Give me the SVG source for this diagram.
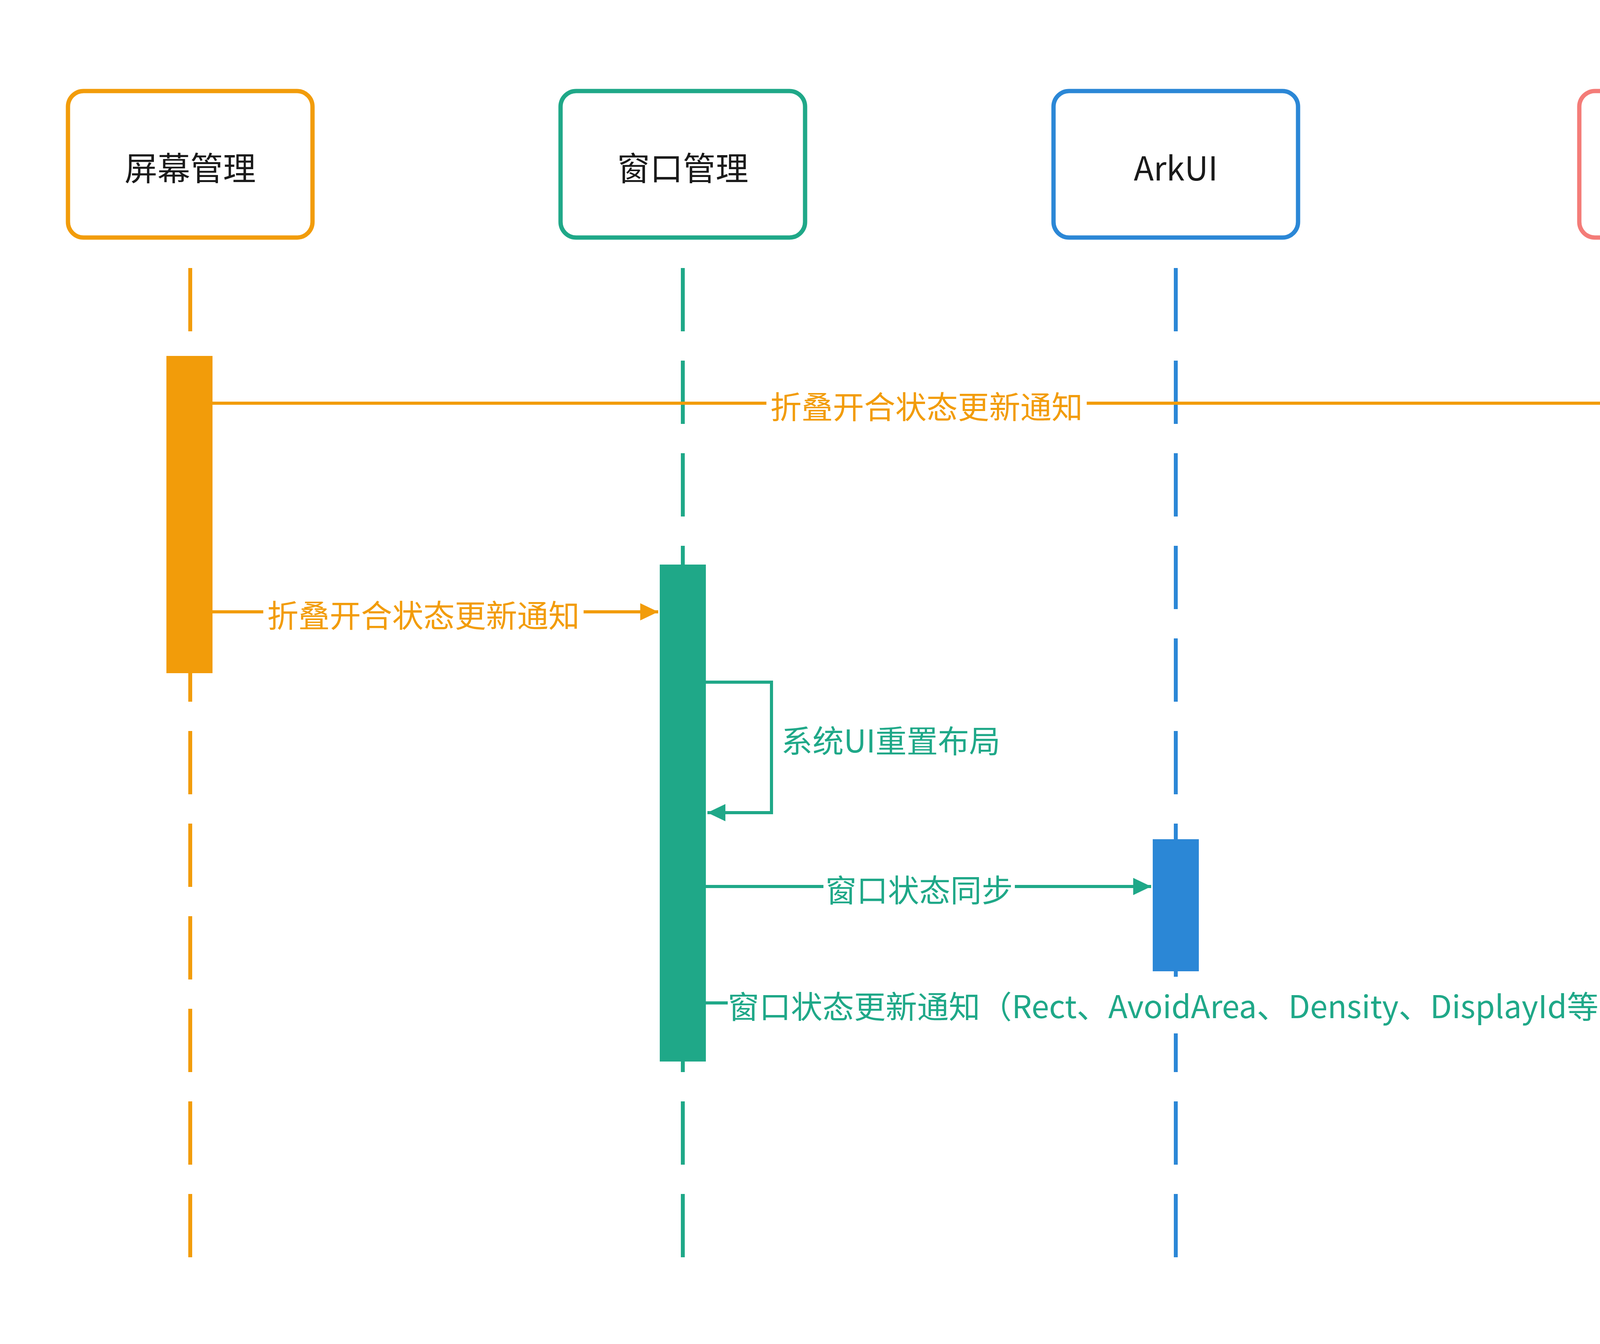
<svg xmlns="http://www.w3.org/2000/svg" width="4842" height="3440" viewBox="0 0 4842 3440">
<style>
.box{fill:#fff;stroke-width:11}
.t{font-family:"Noto Sans CJK SC","Noto Sans",sans-serif;font-size:84px;fill:#1a1a1a;text-anchor:middle;dominant-baseline:central}
.l{font-family:"Noto Sans CJK SC","Noto Sans",sans-serif;font-size:80px;dominant-baseline:central}
.c{text-anchor:middle}
.s{text-anchor:start}
.life{stroke-width:10;stroke-dasharray:162 75;fill:none}
.msg{stroke-width:8;fill:none}
</style>
<defs>
<marker id="ao" markerUnits="userSpaceOnUse" markerWidth="50" markerHeight="44" refX="46" refY="22" orient="auto"><path d="M0,0 L46,22 L0,44 Z" fill="#F29C0A"/></marker>
<marker id="ag" markerUnits="userSpaceOnUse" markerWidth="50" markerHeight="44" refX="46" refY="22" orient="auto"><path d="M0,0 L46,22 L0,44 Z" fill="#1FA888"/></marker>
</defs>
<rect width="4842" height="3440" fill="#fff"/>
<g id="lifelines">
<line class="life" x1="487" y1="686" x2="487" y2="3266" stroke="#F29C0A"/>
<line class="life" x1="1748" y1="686" x2="1748" y2="3266" stroke="#1FA888"/>
<line class="life" x1="3010" y1="686" x2="3010" y2="3266" stroke="#2B87D6"/>
<line class="life" x1="4356" y1="686" x2="4356" y2="3266" stroke="#F47C78"/>
</g>
<g id="screen"><rect class="box" x="174" y="233" width="626" height="375" rx="40" stroke="#F29C0A"/><text class="t" x="487" y="425">屏幕管理</text></g>
<g id="window"><rect class="box" x="1435" y="233" width="626" height="375" rx="40" stroke="#1FA888"/><text class="t" x="1748" y="425">窗口管理</text></g>
<g id="arkui"><rect class="box" x="2697" y="233" width="626" height="375" rx="40" stroke="#2B87D6"/><text class="t" x="3010" y="425">ArkUI</text></g>
<g id="app"><rect class="box" x="4043" y="233" width="626" height="375" rx="40" stroke="#F47C78"/><text class="t" x="4356" y="425">应用UI侧</text></g>
<g id="activations">
<rect x="426" y="911" width="118" height="812" fill="#F29C0A"/>
<rect x="1689" y="1445" width="118" height="1272" fill="#1FA888"/>
<rect x="2951" y="2148" width="118" height="338" fill="#2B87D6"/>
<rect x="4297" y="911" width="118" height="338" fill="#FF7F78"/>
<rect x="4297" y="2452" width="118" height="338" fill="#FF7F78"/>
</g>
<g id="connectors">
<line class="msg" x1="544" y1="1032" x2="4293" y2="1032" stroke="#F29C0A" marker-end="url(#ao)"/>
<rect x="1962" y="982" width="820" height="100" fill="#fff"/>
<text class="l c" x="2372" y="1036" fill="#F29C0A">折叠开合状态更新通知</text>
<line class="msg" x1="544" y1="1566" x2="1685" y2="1566" stroke="#F29C0A" marker-end="url(#ao)"/>
<rect x="674" y="1516" width="820" height="100" fill="#fff"/>
<text class="l c" x="1084" y="1570" fill="#F29C0A">折叠开合状态更新通知</text>
<path class="msg" d="M1807 1746 H1975 V2080 H1811" stroke="#1FA888" marker-end="url(#ag)"/>
<text class="l s" x="2000" y="1891" fill="#1FA888">系统UI重置布局</text>
<line class="msg" x1="1807" y1="2269" x2="2947" y2="2269" stroke="#1FA888" marker-end="url(#ag)"/>
<rect x="2108" y="2219" width="490" height="100" fill="#fff"/>
<text class="l c" x="2353" y="2273" fill="#1FA888">窗口状态同步</text>
<line class="msg" x1="1807" y1="2567" x2="4293" y2="2567" stroke="#1FA888" marker-end="url(#ag)"/>
<rect x="1863" y="2500" width="2330" height="145" fill="#fff"/>
<text class="l s" x="1863" y="2571" fill="#1FA888" textLength="2310" lengthAdjust="spacingAndGlyphs">窗口状态更新通知（Rect、AvoidArea、Density、DisplayId等）</text>
</g>
</svg>
